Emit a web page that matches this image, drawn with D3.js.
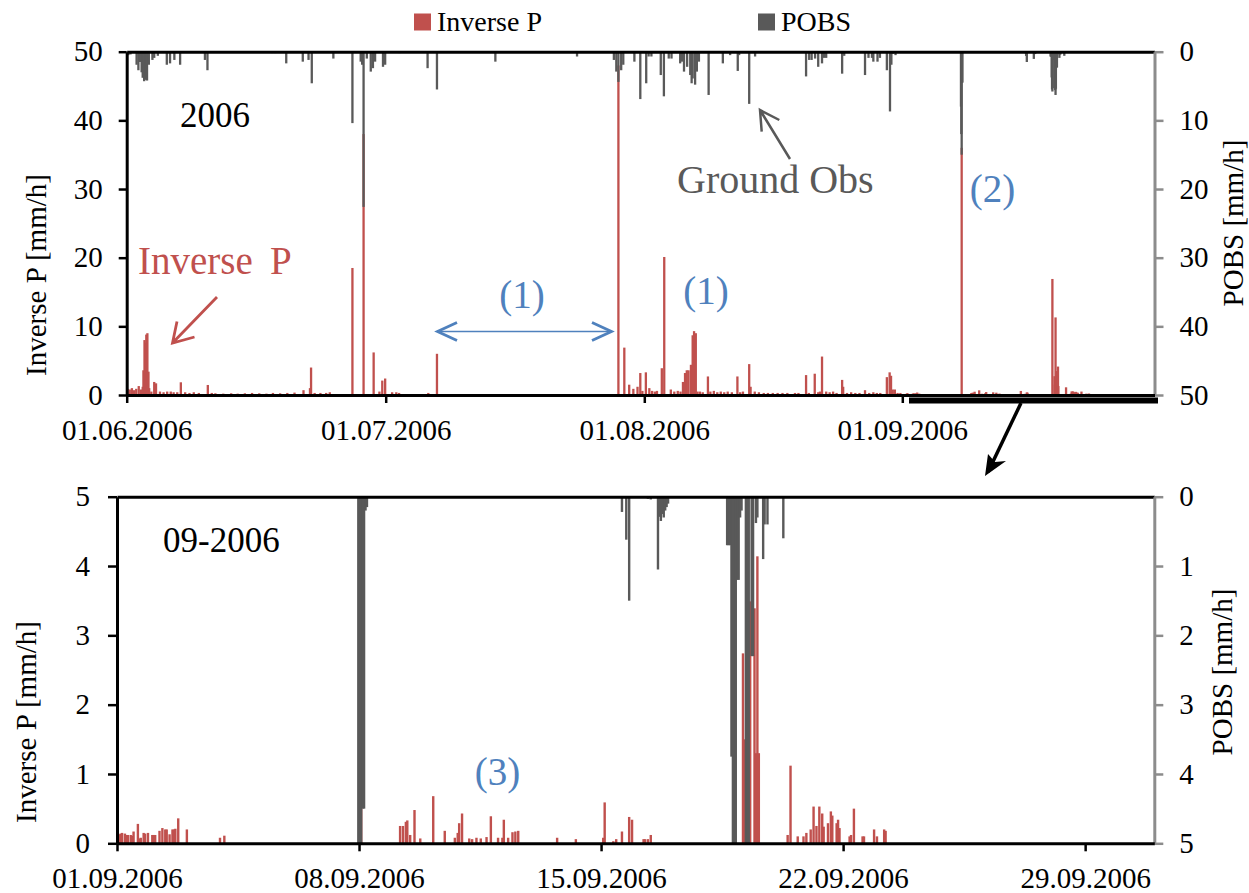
<!DOCTYPE html>
<html><head><meta charset="utf-8">
<script src="https://cdn.jsdelivr.net/npm/d3@7"></script>
<style>
body{margin:0;background:#fff}
svg text{font-family:"Liberation Serif","Times New Roman","DejaVu Serif",serif !important;}
</style>
</head><body>
<svg id="c" width="1249" height="893"></svg>
<script>
// ---------------- DATA (times "MM-DD HH", year 2006) ----------------
const summerInvTimes = ["06-01 02","06-01 08","06-01 14","06-01 20","06-02 02","06-02 09","06-02 15","06-02 20","06-02 22","06-03 01","06-03 04","06-03 06","06-03 09","06-03 12","06-03 14","06-03 20","06-04 04","06-04 09","06-04 20","06-05 06","06-05 16","06-06 02","06-06 10","06-06 20","06-07 06","06-07 18","06-08 06","06-08 18","06-09 08","06-10 09","06-10 20","06-11 06","06-12 04","06-13 02","06-13 20","06-14 16","06-15 12","06-16 08","06-17 04","06-17 22","06-18 18","06-19 14","06-20 10","06-21 11","06-22 05","06-22 08","06-22 18","06-23 10","06-24 02","06-24 12","06-27 03","06-28 10","06-29 14","06-30 06","06-30 14","06-30 22","07-01 18","07-02 06","07-02 14","07-06 02","07-07 03","07-28 21","07-29 14","07-30 04","07-30 16","07-31 04","07-31 12","07-31 18","08-01 04","08-01 14","08-01 22","08-02 06","08-02 12","08-03 02","08-03 09","08-04 04","08-04 14","08-05 00","08-05 08","08-05 15","08-05 21","08-06 02","08-06 07","08-06 14","08-06 19","08-06 23","08-07 04","08-07 09","08-07 16","08-08 00","08-08 15","08-08 22","08-09 08","08-09 18","08-10 04","08-10 14","08-11 00","08-11 12","08-12 04","08-12 12","08-12 20","08-13 14","08-13 18","08-14 06","08-14 18","08-15 08","08-15 20","08-16 10","08-17 00","08-17 14","08-18 04","08-19 02","08-19 12","08-20 10","08-20 18","08-21 11","08-21 21","08-22 02","08-22 08","08-22 20","08-23 06","08-23 16","08-24 02","08-24 18","08-24 21","08-25 08","08-25 20","08-26 08","08-26 20","08-27 12","08-28 00","08-28 12","08-28 22","08-29 08","08-30 03","08-30 11","08-30 15","08-30 20","08-31 02","08-31 10","08-31 18"];
const summerInvValues = [0.9,0.8,1.0,0.7,0.9,1.3,0.8,1.2,3.6,8.0,7.6,8.8,9.0,3.4,1.0,0.5,1.9,1.7,0.5,0.4,0.5,0.5,0.4,0.4,1.85,0.4,0.3,0.4,0.3,1.46,0.3,0.25,0.2,0.25,0.2,0.25,0.3,0.25,0.2,0.3,0.25,0.3,0.35,0.7,1.0,4.0,0.3,0.3,0.3,0.4,18.5,38,6.2,0.5,2.1,2.4,0.4,0.4,0.3,0.3,6.0,48,6.9,1.5,0.9,1.2,3.2,0.6,3.3,1.0,0.6,0.5,0.6,3.9,20.1,0.8,0.5,0.6,0.5,1.9,3.2,3.6,3.6,4.4,8.7,9.3,9.0,0.5,0.5,0.4,2.7,0.5,0.6,0.4,0.5,0.4,0.5,0.4,2.7,0.4,0.5,4.5,1.2,0.5,0.4,0.3,0.3,0.3,0.3,0.3,0.3,0.3,0.3,2.9,0.3,3.1,0.4,0.5,5.6,0.5,0.4,0.5,0.3,2.2,1.2,0.3,0.4,0.3,0.3,0.7,0.3,0.4,0.3,0.3,2.6,3.3,2.8,0.8,0.8,0.3,0.3];

const summerObsTimes = ["06-01 04","06-01 10","06-02 03","06-02 08","06-02 12","06-02 17","06-02 20","06-03 00","06-03 04","06-03 08","06-03 13","06-03 23","06-04 04","06-04 14","06-05 15","06-06 00","06-06 12","06-07 04","06-10 01","06-10 08","06-17 20","06-18 04","06-19 11","06-21 09","06-22 01","06-22 10","06-24 22","06-27 03","06-28 02","06-28 06","06-28 10","06-28 19","06-29 06","06-29 12","06-29 18","06-30 16","06-30 22","07-02 15","07-06 00","07-07 03","07-14 03","07-23 22","07-28 08","07-28 15","07-28 21","07-29 05","07-29 11","07-30 19","07-31 12","08-01 05","08-01 12","08-01 20","08-02 23","08-03 08","08-03 22","08-04 06","08-05 07","08-05 12","08-05 18","08-06 03","08-06 12","08-06 16","08-06 19","08-07 02","08-07 07","08-07 13","08-08 17","08-10 10","08-11 07","08-12 05","08-12 09","08-13 14","08-14 07","08-20 10","08-20 19","08-21 02","08-21 12","08-21 21","08-22 08","08-22 14","08-22 20","08-24 18","08-25 00","08-27 12","08-27 22","08-28 08","08-28 12","08-29 00","08-29 07","08-30 03","08-30 12","08-30 16","08-30 20","08-31 04"];
const summerObsValues = [0.5,0.4,1.9,2.7,1.5,3.0,3.8,4.3,4.1,4.2,1.9,1.2,0.9,0.6,1.9,1.7,1.2,1.9,1.2,2.7,0.2,0.2,1.7,1.45,1.2,4.6,1.0,10.4,1.45,1.9,22.6,1.0,2.9,2.4,1.45,2.2,1.9,0.2,2.4,5.5,1.45,0.7,1.2,2.9,4.4,2.7,1.9,1.45,6.9,4.6,0.7,0.7,3.4,6.5,1.0,1.0,1.7,1.45,2.9,2.2,3.4,4.6,3.9,4.8,2.9,1.45,6.3,1.7,0.5,2.8,0.5,7.6,0.7,3.6,1.2,1.2,1.0,2.2,1.7,0.9,0.9,3.2,0.6,3.4,0.9,0.9,1.45,1.45,0.9,2.7,8.7,1.9,0.3,0.5];

const sepInvTimes = ["09-01 01","09-01 02","09-01 03","09-01 05","09-01 06","09-01 07","09-01 09","09-01 10","09-01 11","09-01 14","09-01 15","09-01 16","09-01 18","09-01 19","09-01 21","09-02 00","09-02 01","09-02 02","09-02 05","09-02 07","09-02 09","09-02 10","09-02 12","09-02 14","09-02 15","09-02 16","09-02 18","09-03 00","09-03 23","09-04 02","09-08 01","09-09 04","09-09 06","09-09 08","09-09 09","09-09 11","09-09 14","09-09 18","09-10 03","09-10 11","09-10 18","09-10 20","09-10 21","09-10 23","09-11 04","09-11 06","09-11 09","09-11 12","09-11 16","09-11 19","09-12 00","09-12 03","09-12 04","09-12 07","09-12 10","09-12 12","09-12 14","09-13 17","09-14 06","09-15 01","09-15 02","09-15 08","09-15 10","09-15 14","09-15 19","09-15 21","09-16 05","09-16 06","09-16 08","09-16 10","09-18 20","09-19 02","09-19 03","09-19 05","09-19 07","09-19 10","09-19 11","09-19 12","09-19 13","09-20 09","09-20 11","09-20 16","09-20 20","09-20 22","09-21 01","09-21 03","09-21 05","09-21 07","09-21 09","09-21 10","09-21 13","09-21 15","09-21 16","09-21 19","09-21 20","09-21 21","09-22 04","09-22 05","09-22 07","09-22 13","09-22 14","09-22 21","09-22 23","09-23 04","09-23 05"];
const sepInvValues = [0.13,0.14,0.15,0.14,0.12,0.12,0.12,0.11,0.17,0.28,0.07,0.08,0.15,0.14,0.15,0.12,0.12,0.12,0.18,0.22,0.2,0.2,0.13,0.2,0.2,0.21,0.36,0.2,0.08,0.11,36,0.25,0.25,0.31,0.33,0.12,0.48,0.07,0.68,0.18,0.08,0.15,0.29,0.43,0.07,0.06,0.08,0.07,0.09,0.39,0.08,0.08,0.34,0.08,0.16,0.17,0.18,0.08,0.06,0.08,0.59,0.03,0.06,0.17,0.38,0.34,0.06,0.06,0.06,0.12,16.9,2.74,1.5,11.3,3.49,3.39,1.3,4.14,1.3,0.12,1.12,0.1,0.1,0.15,0.2,0.53,0.25,0.53,0.43,0.24,0.29,0.46,0.4,0.29,0.34,0.22,0.1,0.12,0.5,0.1,0.1,0.2,0.1,0.2,0.18];

const sepObsTimes = ["09-07 23","09-08 00","09-08 01","09-08 02","09-08 03","09-08 04","09-08 05","09-15 14","09-15 17","09-15 19","09-16 08","09-16 10","09-16 15","09-16 16","09-16 17","09-16 18","09-16 19","09-16 20","09-16 21","09-16 22","09-18 15","09-18 16","09-18 17","09-18 18","09-18 19","09-18 20","09-18 21","09-18 22","09-18 23","09-19 00","09-19 01","09-19 04","09-19 05","09-19 06","09-19 08","09-19 09","09-19 11","09-19 12","09-19 16","09-19 17","09-19 19","09-20 06"];
const sepObsValues = [8,12,15,4.5,4.5,0.2,0.15,0.22,0.62,1.5,0.03,0.04,1.05,0.29,0.35,0.25,0.3,0.2,0.15,0.1,0.7,0.7,0.7,3.75,5.5,5.8,5.3,1.2,1.2,0.3,0.2,5.6,6.3,5.4,2.3,2.3,0.38,0.3,0.9,0.4,0.4,0.6];

const topTickDates = ["06-01 00","07-01 00","08-01 00","09-01 00"];
const bottomTickDates = ["09-01 00","09-08 00","09-15 00","09-22 00","09-29 00"];
const topYTicks = [0,10,20,30,40,50];
const bottomYTicks = [0,1,2,3,4,5];

// ---------------- RENDERING ----------------
const parse = d3.timeParse("%Y-%m-%d %H");
const T = s => parse("2006-" + s);
const RED = "#c0504d", GRAY = "#595959", AXG = "#8c8c8c", BLUE = "#4f81bd";
const svg = d3.select("#c");

function zip(ts, vs) { return ts.map((t, i) => ({t: T(t), v: vs[i]})); }

function panel(o) {
  const g = svg.append("g");
  const x = d3.scaleTime().domain(o.xDomain.map(T)).range(o.xRange);
  const yInv = d3.scaleLinear().domain([0, o.yMax]).range([o.bottom, o.top]);
  const yObs = d3.scaleLinear().domain([0, o.yMax]).range([o.top, o.bottom]);
  const L = o.xRange[0], R = o.xRange[o.xRange.length - 1];
  const cid = "clip" + o.id;
  svg.append("clipPath").attr("id", cid).append("rect")
    .attr("x", L).attr("y", o.top).attr("width", R - L).attr("height", o.bottom - o.top);
  const bars = g.append("g").attr("clip-path", `url(#${cid})`);
  const cx = d => (x(d.t) + x(d3.timeHour.offset(d.t, 1))) / 2;
  bars.append("g").selectAll("rect").data(o.inv).join("rect")
    .attr("x", d => cx(d) - o.barW / 2).attr("width", o.barW)
    .attr("y", d => yInv(d.v)).attr("height", d => o.bottom - yInv(d.v))
    .attr("fill", RED);
  bars.append("g").selectAll("rect").data(o.obs).join("rect")
    .attr("x", d => cx(d) - o.barW / 2).attr("width", o.barW)
    .attr("y", o.top).attr("height", d => yObs(d.v) - o.top)
    .attr("fill", GRAY);

  const styleAxis = (sel, col) => {
    sel.attr("font-size", 29);
    sel.select(".domain").attr("stroke", col).attr("stroke-width", 3);
    sel.selectAll(".tick line").attr("stroke", col).attr("stroke-width", 2.5);
    sel.selectAll(".tick text").attr("fill", "#000");
  };
  const fmt = d3.format("d");
  g.append("g").attr("transform", `translate(0,${o.top})`)
    .call(d3.axisTop(x).tickValues([]).tickSizeOuter(0)).call(s => styleAxis(s, "#000"));
  g.append("g").attr("transform", `translate(${R},0)`)
    .call(d3.axisRight(yObs).tickValues(o.yTicks).tickFormat(fmt).tickSize(9).tickSizeOuter(0).tickPadding(16))
    .call(s => styleAxis(s, AXG));
  g.append("g").attr("transform", `translate(${L},0)`)
    .call(d3.axisLeft(yInv).tickValues(o.yTicks).tickFormat(fmt).tickSize(o.ytick).tickSizeOuter(0).tickPadding(o.ypad))
    .call(s => styleAxis(s, "#000"));
  g.append("g").attr("transform", `translate(0,${o.bottom})`)
    .call(d3.axisBottom(x).tickValues(o.xTicks.map(T)).tickFormat(d3.timeFormat("%d.%m.%Y"))
      .tickSize(8).tickSizeOuter(0).tickPadding(16))
    .call(s => styleAxis(s, "#000"));

  g.append("text").attr("transform", `translate(${o.lt[0]},${o.lt[1]}) rotate(-90)`)
    .attr("text-anchor", "middle").attr("font-size", 29).text("Inverse P [mm/h]");
  g.append("text").attr("transform", `translate(${o.rt[0]},${o.rt[1]}) rotate(-90)`)
    .attr("text-anchor", "middle").attr("font-size", 29).text("POBS [mm/h]");
}

const sepInv = zip(sepInvTimes, sepInvValues), sepObs = zip(sepObsTimes, sepObsValues);

panel({
  id: "top", top: 51.7, bottom: 395, yMax: 50, yTicks: topYTicks, ytick: 8, ypad: 16,
  xDomain: ["06-01 00","07-01 00","08-01 00","09-01 00","10-01 00"],
  xRange: [126.7, 385.7, 644.3, 902.3, 1154.5],
  xTicks: topTickDates, barW: 2.3,
  inv: zip(summerInvTimes, summerInvValues).concat(sepInv),
  obs: zip(summerObsTimes, summerObsValues).concat(sepObs),
  lt: [46, 275], rt: [1243, 223]
});
panel({
  id: "bot", top: 496.7, bottom: 843.3, yMax: 5, yTicks: bottomYTicks, ytick: 9, ypad: 18,
  xDomain: ["09-01 00","10-01 00"], xRange: [117, 1154.3],
  xTicks: bottomTickDates, barW: 2.4,
  inv: sepInv, obs: sepObs,
  lt: [35.5, 722], rt: [1232, 672]
});

// ---------------- legend ----------------
const lg = svg.append("g").attr("font-size", 28);
lg.append("rect").attr("x", 414).attr("y", 13.5).attr("width", 17).attr("height", 17).attr("fill", RED);
lg.append("text").attr("x", 437).attr("y", 31).text("Inverse P");
lg.append("rect").attr("x", 758).attr("y", 13.5).attr("width", 17).attr("height", 17).attr("fill", GRAY);
lg.append("text").attr("x", 781).attr("y", 31).text("POBS");

// ---------------- annotations ----------------
const an = svg.append("g");
an.append("text").attr("x", 180).attr("y", 127).attr("font-size", 35).text("2006");
an.append("text").attr("x", 163).attr("y", 552).attr("font-size", 35).text("09-2006");

const ip = an.append("text").attr("y", 274).attr("font-size", 39).attr("fill", RED);
ip.append("tspan").attr("x", 138).text("Inverse");
ip.append("tspan").attr("x", 270).text("P");
an.append("path").attr("d", "M217,297 L172.5,343 M177,321.5 L172.5,343 L194.5,337")
  .attr("fill", "none").attr("stroke", RED).attr("stroke-width", 2.8);

an.append("text").attr("x", 677).attr("y", 193).attr("font-size", 40).attr("fill", GRAY).text("Ground Obs");
an.append("path").attr("d", "M790,159 L760,110 M761.7,131.7 L760,110 L779.3,120")
  .attr("fill", "none").attr("stroke", GRAY).attr("stroke-width", 2.5);

const blue = [["(1)", 522, 307.5], ["(1)", 706, 304], ["(2)", 992.5, 202], ["(3)", 497.5, 785]];
blue.forEach(b => an.append("text").attr("x", b[1]).attr("y", b[2]).attr("text-anchor", "middle")
  .attr("font-size", 39).attr("fill", BLUE).text(b[0]));
an.append("line").attr("x1", 438).attr("y1", 331.5).attr("x2", 611).attr("y2", 331.5)
  .attr("stroke", BLUE).attr("stroke-width", 1.5);
an.append("path").attr("d", "M457,322.5 L437.5,331.5 L457,340.5 M592,322.5 L611.5,331.5 L592,340.5")
  .attr("fill", "none").attr("stroke", BLUE).attr("stroke-width", 2.8);

an.append("rect").attr("x", 909).attr("y", 397.5).attr("width", 249).attr("height", 6).attr("fill", "#000");
an.append("line").attr("x1", 1021).attr("y1", 403).attr("x2", 988).attr("y2", 472)
  .attr("stroke", "#000").attr("stroke-width", 3.5);
an.append("path").attr("d", "M985,476 L988,454 L995,462 L1006,461 Z").attr("fill", "#000");
</script>
</body></html>
